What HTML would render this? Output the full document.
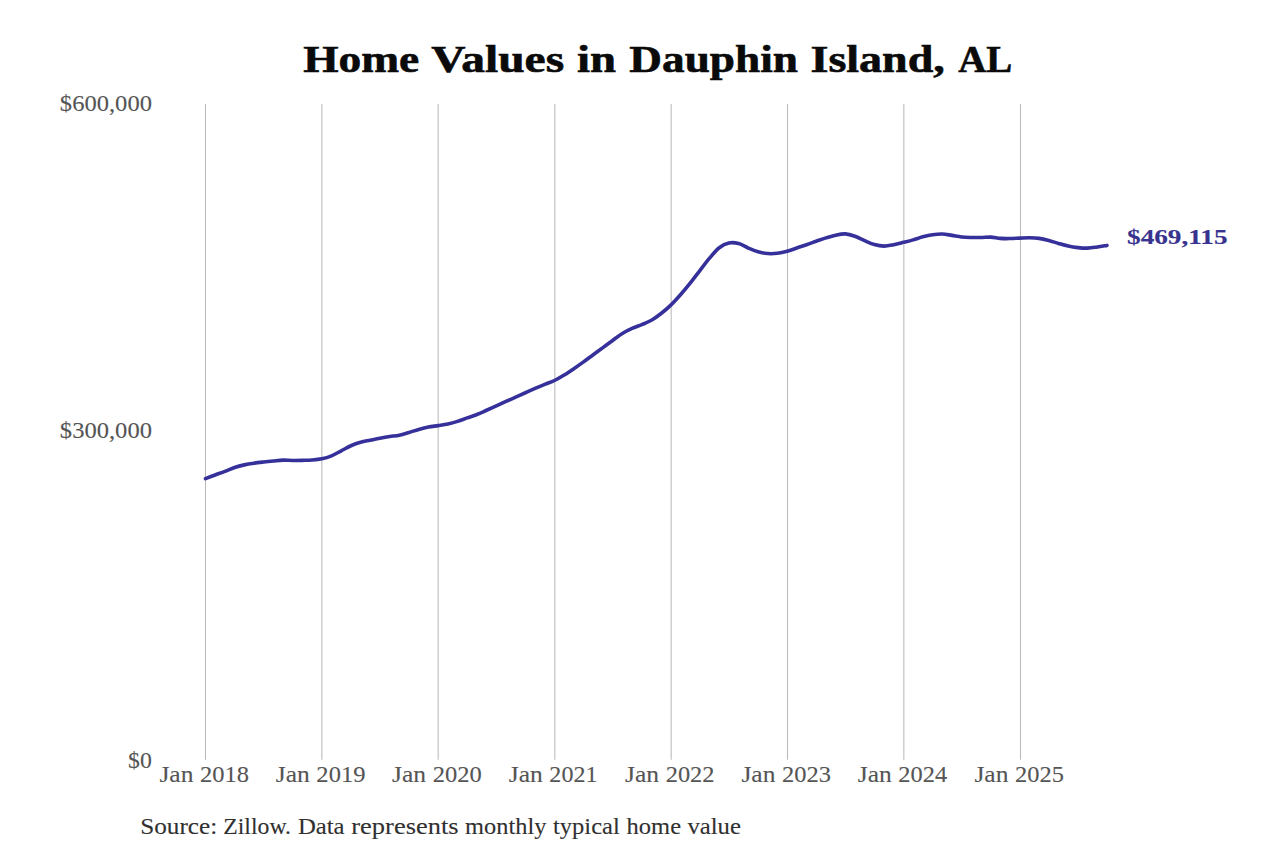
<!DOCTYPE html>
<html><head><meta charset="utf-8"><style>
html,body{margin:0;padding:0;background:#fff;}
svg{display:block;}
</style></head><body>
<svg width="1280" height="853" viewBox="0 0 1280 853" font-family="'Liberation Serif'">
<rect width="1280" height="853" fill="#fff"/>
<text x="303.22" y="72.30" font-size="38.00" textLength="116.04" lengthAdjust="spacingAndGlyphs" font-weight="bold" fill="#0a0a0a" stroke="#0a0a0a" stroke-width="0.6">Home</text>
<text x="431.34" y="72.30" font-size="38.00" textLength="132.80" lengthAdjust="spacingAndGlyphs" font-weight="bold" fill="#0a0a0a" stroke="#0a0a0a" stroke-width="0.6">Values</text>
<text x="577.02" y="72.30" font-size="38.00" textLength="39.00" lengthAdjust="spacingAndGlyphs" font-weight="bold" fill="#0a0a0a" stroke="#0a0a0a" stroke-width="0.6">in</text>
<text x="629.36" y="72.30" font-size="38.00" textLength="168.53" lengthAdjust="spacingAndGlyphs" font-weight="bold" fill="#0a0a0a" stroke="#0a0a0a" stroke-width="0.6">Dauphin</text>
<text x="810.49" y="72.30" font-size="38.00" textLength="134.26" lengthAdjust="spacingAndGlyphs" font-weight="bold" fill="#0a0a0a" stroke="#0a0a0a" stroke-width="0.6">Island,</text>
<text x="958.15" y="72.30" font-size="38.00" textLength="54.01" lengthAdjust="spacingAndGlyphs" font-weight="bold" fill="#0a0a0a" stroke="#0a0a0a" stroke-width="0.6">AL</text>
<g stroke="#b9b9b9" stroke-width="1.05"><line x1="205.50" y1="104" x2="205.50" y2="759.7"/><line x1="321.84" y1="104" x2="321.84" y2="759.7"/><line x1="438.18" y1="104" x2="438.18" y2="759.7"/><line x1="554.83" y1="104" x2="554.83" y2="759.7"/><line x1="671.17" y1="104" x2="671.17" y2="759.7"/><line x1="787.51" y1="104" x2="787.51" y2="759.7"/><line x1="903.84" y1="104" x2="903.84" y2="759.7"/><line x1="1020.50" y1="104" x2="1020.50" y2="759.7"/></g>
<text x="59.86" y="110.60" font-size="23.00" textLength="92.08" lengthAdjust="spacingAndGlyphs" fill="#555" stroke="#555" stroke-width="0.12">$600,000</text>
<text x="59.86" y="437.80" font-size="23.00" textLength="92.08" lengthAdjust="spacingAndGlyphs" fill="#555" stroke="#555" stroke-width="0.12">$300,000</text>
<text x="128.12" y="767.80" font-size="23.00" textLength="23.79" lengthAdjust="spacingAndGlyphs" fill="#555" stroke="#555" stroke-width="0.12">$0</text>
<text x="159.41" y="781.70" font-size="23.00" textLength="34.02" lengthAdjust="spacingAndGlyphs" fill="#555" stroke="#555" stroke-width="0.12">Jan</text>
<text x="200.03" y="781.70" font-size="23.00" textLength="49.00" lengthAdjust="spacingAndGlyphs" fill="#555" stroke="#555" stroke-width="0.12">2018</text>
<text x="275.75" y="781.70" font-size="23.00" textLength="34.02" lengthAdjust="spacingAndGlyphs" fill="#555" stroke="#555" stroke-width="0.12">Jan</text>
<text x="316.37" y="781.70" font-size="23.00" textLength="49.07" lengthAdjust="spacingAndGlyphs" fill="#555" stroke="#555" stroke-width="0.12">2019</text>
<text x="392.09" y="781.70" font-size="23.00" textLength="34.02" lengthAdjust="spacingAndGlyphs" fill="#555" stroke="#555" stroke-width="0.12">Jan</text>
<text x="432.71" y="781.70" font-size="23.00" textLength="49.02" lengthAdjust="spacingAndGlyphs" fill="#555" stroke="#555" stroke-width="0.12">2020</text>
<text x="508.74" y="781.70" font-size="23.00" textLength="34.02" lengthAdjust="spacingAndGlyphs" fill="#555" stroke="#555" stroke-width="0.12">Jan</text>
<text x="549.39" y="781.70" font-size="23.00" textLength="48.03" lengthAdjust="spacingAndGlyphs" fill="#555" stroke="#555" stroke-width="0.12">2021</text>
<text x="625.08" y="781.70" font-size="23.00" textLength="34.02" lengthAdjust="spacingAndGlyphs" fill="#555" stroke="#555" stroke-width="0.12">Jan</text>
<text x="665.71" y="781.70" font-size="23.00" textLength="48.81" lengthAdjust="spacingAndGlyphs" fill="#555" stroke="#555" stroke-width="0.12">2022</text>
<text x="741.42" y="781.70" font-size="23.00" textLength="34.02" lengthAdjust="spacingAndGlyphs" fill="#555" stroke="#555" stroke-width="0.12">Jan</text>
<text x="782.04" y="781.70" font-size="23.00" textLength="48.88" lengthAdjust="spacingAndGlyphs" fill="#555" stroke="#555" stroke-width="0.12">2023</text>
<text x="857.76" y="781.70" font-size="23.00" textLength="34.02" lengthAdjust="spacingAndGlyphs" fill="#555" stroke="#555" stroke-width="0.12">Jan</text>
<text x="898.38" y="781.70" font-size="23.00" textLength="48.77" lengthAdjust="spacingAndGlyphs" fill="#555" stroke="#555" stroke-width="0.12">2024</text>
<text x="974.41" y="781.70" font-size="23.00" textLength="34.02" lengthAdjust="spacingAndGlyphs" fill="#555" stroke="#555" stroke-width="0.12">Jan</text>
<text x="1015.04" y="781.70" font-size="23.00" textLength="48.82" lengthAdjust="spacingAndGlyphs" fill="#555" stroke="#555" stroke-width="0.12">2025</text>
<path d="M205.50,478.60 C207.12,477.99 211.96,476.16 215.19,474.95 C218.42,473.74 221.66,472.58 224.89,471.34 C228.12,470.11 231.35,468.62 234.58,467.54 C237.81,466.46 241.04,465.60 244.27,464.87 C247.51,464.15 250.74,463.65 253.97,463.18 C257.20,462.70 260.43,462.36 263.66,462.00 C266.89,461.63 270.12,461.30 273.35,460.99 C276.59,460.68 279.82,460.23 283.05,460.14 C286.28,460.05 289.51,460.44 292.74,460.47 C295.97,460.51 299.20,460.43 302.44,460.35 C305.67,460.28 308.90,460.27 312.13,460.01 C315.36,459.76 318.59,459.52 321.82,458.82 C325.05,458.13 328.28,457.17 331.52,455.84 C334.75,454.51 337.98,452.51 341.21,450.83 C344.44,449.15 347.67,447.18 350.90,445.75 C354.13,444.32 357.37,443.16 360.60,442.25 C363.83,441.33 367.06,440.91 370.29,440.25 C373.52,439.59 376.75,438.90 379.98,438.29 C383.22,437.68 386.45,437.10 389.68,436.58 C392.91,436.07 396.14,435.90 399.37,435.21 C402.60,434.52 405.83,433.41 409.06,432.45 C412.30,431.48 415.53,430.31 418.76,429.41 C421.99,428.51 425.22,427.66 428.45,427.02 C431.68,426.39 434.91,426.10 438.15,425.60 C441.38,425.09 444.61,424.69 447.84,423.98 C451.07,423.27 454.30,422.37 457.53,421.35 C460.76,420.34 463.99,419.03 467.23,417.89 C470.46,416.76 473.69,415.82 476.92,414.55 C480.15,413.27 483.38,411.70 486.61,410.25 C489.84,408.80 493.08,407.33 496.31,405.86 C499.54,404.40 502.77,402.94 506.00,401.48 C509.23,400.03 512.46,398.60 515.69,397.15 C518.92,395.69 522.16,394.20 525.39,392.75 C528.62,391.31 531.85,389.85 535.08,388.45 C538.31,387.05 541.54,385.68 544.77,384.35 C548.01,383.03 551.24,382.05 554.47,380.50 C557.70,378.95 560.93,377.03 564.16,375.05 C567.39,373.08 570.62,370.84 573.85,368.65 C577.09,366.46 580.32,364.24 583.55,361.91 C586.78,359.58 590.01,357.08 593.24,354.69 C596.47,352.31 599.70,349.98 602.94,347.61 C606.17,345.24 609.40,342.83 612.63,340.48 C615.86,338.13 619.09,335.53 622.32,333.51 C625.55,331.50 628.78,329.88 632.02,328.40 C635.25,326.92 638.48,325.98 641.71,324.63 C644.94,323.28 648.17,322.15 651.40,320.30 C654.63,318.44 657.87,316.02 661.10,313.49 C664.33,310.95 667.56,308.22 670.79,305.09 C674.02,301.96 677.25,298.35 680.48,294.71 C683.72,291.06 686.95,287.23 690.18,283.20 C693.41,279.17 696.64,274.71 699.87,270.54 C703.10,266.37 706.33,261.98 709.56,258.18 C712.80,254.39 716.03,250.27 719.26,247.74 C722.49,245.21 725.72,243.69 728.95,243.00 C732.18,242.31 735.41,242.74 738.65,243.59 C741.88,244.43 745.11,246.69 748.34,248.06 C751.57,249.43 754.80,250.89 758.03,251.81 C761.26,252.73 764.49,253.33 767.73,253.58 C770.96,253.83 774.19,253.69 777.42,253.31 C780.65,252.93 783.88,252.21 787.11,251.32 C790.34,250.43 793.58,249.07 796.81,247.97 C800.04,246.87 803.27,245.85 806.50,244.73 C809.73,243.62 812.96,242.42 816.19,241.28 C819.42,240.14 822.66,238.92 825.89,237.90 C829.12,236.89 832.35,235.85 835.58,235.19 C838.81,234.52 842.04,233.73 845.27,233.91 C848.51,234.08 851.74,235.11 854.97,236.23 C858.20,237.35 861.43,239.25 864.66,240.64 C867.89,242.03 871.12,243.69 874.35,244.60 C877.59,245.51 880.82,246.08 884.05,246.10 C887.28,246.11 890.51,245.29 893.74,244.67 C896.97,244.05 900.20,243.17 903.44,242.37 C906.67,241.57 909.90,240.80 913.13,239.88 C916.36,238.97 919.59,237.72 922.82,236.86 C926.05,236.00 929.28,235.20 932.52,234.72 C935.75,234.23 938.98,233.84 942.21,233.95 C945.44,234.06 948.67,234.88 951.90,235.39 C955.13,235.89 958.37,236.63 961.60,236.98 C964.83,237.33 968.06,237.39 971.29,237.48 C974.52,237.56 977.75,237.55 980.98,237.49 C984.22,237.43 987.45,236.97 990.68,237.12 C993.91,237.28 997.14,238.18 1000.37,238.42 C1003.60,238.66 1006.83,238.60 1010.06,238.56 C1013.30,238.51 1016.53,238.28 1019.76,238.15 C1022.99,238.01 1026.22,237.71 1029.45,237.74 C1032.68,237.78 1035.91,237.88 1039.15,238.35 C1042.38,238.81 1045.61,239.66 1048.84,240.52 C1052.07,241.37 1055.30,242.56 1058.53,243.48 C1061.76,244.40 1064.99,245.36 1068.23,246.04 C1071.46,246.73 1074.69,247.24 1077.92,247.59 C1081.15,247.93 1084.38,248.22 1087.61,248.11 C1090.84,248.01 1094.08,247.40 1097.31,246.95 C1100.54,246.50 1105.38,245.67 1107.00,245.42" fill="none" stroke="#36309a" stroke-width="3.6" stroke-linejoin="round" stroke-linecap="round"/>
<text x="1127.04" y="244.30" font-size="22.00" textLength="100.49" lengthAdjust="spacingAndGlyphs" font-weight="bold" fill="#38338f" stroke="#38338f" stroke-width="0.15">$469,115</text>
<text x="140.21" y="834.20" font-size="22.30" textLength="77.02" lengthAdjust="spacingAndGlyphs" fill="#303030" stroke="#303030" stroke-width="0.1">Source:</text>
<text x="223.28" y="834.20" font-size="22.30" textLength="67.65" lengthAdjust="spacingAndGlyphs" fill="#303030" stroke="#303030" stroke-width="0.1">Zillow.</text>
<text x="297.90" y="834.20" font-size="22.30" textLength="46.72" lengthAdjust="spacingAndGlyphs" fill="#303030" stroke="#303030" stroke-width="0.1">Data</text>
<text x="351.31" y="834.20" font-size="22.30" textLength="107.28" lengthAdjust="spacingAndGlyphs" fill="#303030" stroke="#303030" stroke-width="0.1">represents</text>
<text x="465.12" y="834.20" font-size="22.30" textLength="81.30" lengthAdjust="spacingAndGlyphs" fill="#303030" stroke="#303030" stroke-width="0.1">monthly</text>
<text x="553.00" y="834.20" font-size="22.30" textLength="66.78" lengthAdjust="spacingAndGlyphs" fill="#303030" stroke="#303030" stroke-width="0.1">typical</text>
<text x="626.63" y="834.20" font-size="22.30" textLength="54.42" lengthAdjust="spacingAndGlyphs" fill="#303030" stroke="#303030" stroke-width="0.1">home</text>
<text x="687.40" y="834.20" font-size="22.30" textLength="53.59" lengthAdjust="spacingAndGlyphs" fill="#303030" stroke="#303030" stroke-width="0.1">value</text>
</svg>
</body></html>
